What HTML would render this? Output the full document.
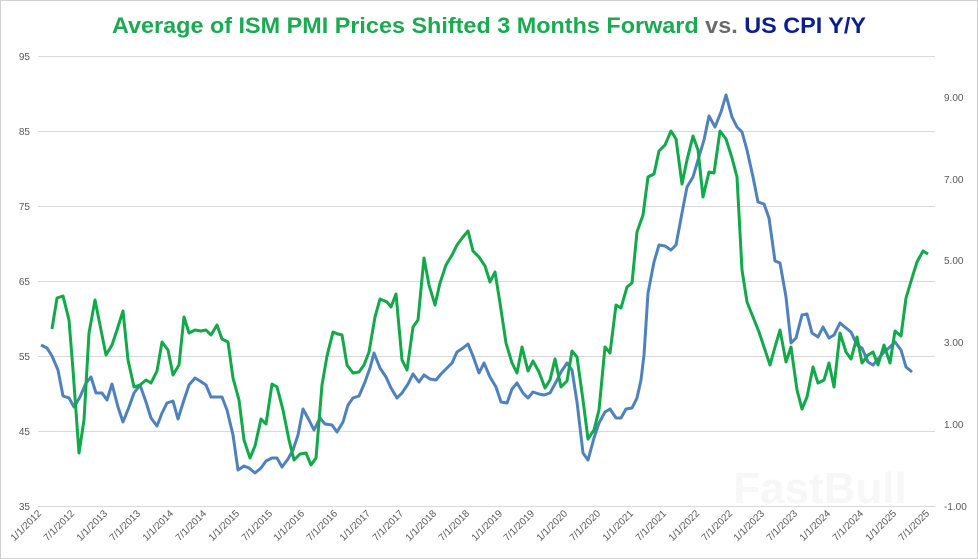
<!DOCTYPE html>
<html><head><meta charset="utf-8"><style>
html,body{margin:0;padding:0;background:#fff;}
svg{display:block;font-family:"Liberation Sans",sans-serif;}
</style></head><body>
<svg width="978" height="559" viewBox="0 0 978 559" xmlns="http://www.w3.org/2000/svg">
<rect x="0.5" y="0.5" width="977" height="558" fill="#fff" stroke="#d0d0d0"/>
<text x="489" y="33" text-anchor="middle" font-size="22" font-weight="bold" textLength="754" lengthAdjust="spacingAndGlyphs"><tspan fill="#1aaa4f">Average of ISM PMI Prices Shifted 3 Months Forward</tspan><tspan fill="#6b6b6b"> vs. </tspan><tspan fill="#0a1f8f">US CPI Y/Y</tspan></text>
<g stroke="#d9d9d9" stroke-width="1">
<line x1="38" x2="935" y1="56.5" y2="56.5"/><line x1="38" x2="935" y1="131.5" y2="131.5"/><line x1="38" x2="935" y1="206.5" y2="206.5"/><line x1="38" x2="935" y1="281.5" y2="281.5"/><line x1="38" x2="935" y1="356.5" y2="356.5"/><line x1="38" x2="935" y1="431.5" y2="431.5"/><line x1="38" x2="935" y1="506.5" y2="506.5"/>
</g>
<g font-size="10" fill="#595959" text-anchor="end">
<text x="30" y="60">95</text><text x="30" y="135">85</text><text x="30" y="210">75</text><text x="30" y="285">65</text><text x="30" y="360">55</text><text x="30" y="435">45</text><text x="30" y="510">35</text>
</g>
<g font-size="10" fill="#595959" text-anchor="start">
<text x="944" y="101">9.00</text><text x="944" y="183">7.00</text><text x="944" y="264">5.00</text><text x="944" y="346">3.00</text><text x="944" y="428">1.00</text><text x="944" y="510">-1.00</text>
</g>
<text x="820" y="503" text-anchor="middle" font-size="44" font-weight="bold" fill="#f7f7f7">FastBull</text>
<g font-size="10" fill="#595959" text-anchor="end">
<text transform="translate(42,514) rotate(-45)">1/1/2012</text>
<text transform="translate(75,514) rotate(-45)">7/1/2012</text>
<text transform="translate(108,514) rotate(-45)">1/1/2013</text>
<text transform="translate(141,514) rotate(-45)">7/1/2013</text>
<text transform="translate(174,514) rotate(-45)">1/1/2014</text>
<text transform="translate(207,514) rotate(-45)">7/1/2014</text>
<text transform="translate(240,514) rotate(-45)">1/1/2015</text>
<text transform="translate(273,514) rotate(-45)">7/1/2015</text>
<text transform="translate(305,514) rotate(-45)">1/1/2016</text>
<text transform="translate(338,514) rotate(-45)">7/1/2016</text>
<text transform="translate(371,514) rotate(-45)">1/1/2017</text>
<text transform="translate(404,514) rotate(-45)">7/1/2017</text>
<text transform="translate(437,514) rotate(-45)">1/1/2018</text>
<text transform="translate(470,514) rotate(-45)">7/1/2018</text>
<text transform="translate(503,514) rotate(-45)">1/1/2019</text>
<text transform="translate(535,514) rotate(-45)">7/1/2019</text>
<text transform="translate(568,514) rotate(-45)">1/1/2020</text>
<text transform="translate(601,514) rotate(-45)">7/1/2020</text>
<text transform="translate(634,514) rotate(-45)">1/1/2021</text>
<text transform="translate(667,514) rotate(-45)">7/1/2021</text>
<text transform="translate(700,514) rotate(-45)">1/1/2022</text>
<text transform="translate(733,514) rotate(-45)">7/1/2022</text>
<text transform="translate(765,514) rotate(-45)">1/1/2023</text>
<text transform="translate(798,514) rotate(-45)">7/1/2023</text>
<text transform="translate(831,514) rotate(-45)">1/1/2024</text>
<text transform="translate(864,514) rotate(-45)">7/1/2024</text>
<text transform="translate(897,514) rotate(-45)">1/1/2025</text>
<text transform="translate(930,514) rotate(-45)">7/1/2025</text>
</g>
<polyline fill="none" stroke="#4f81bd" stroke-width="3" stroke-linejoin="round" points="41,345 47,348 52,356 58,370 63,396 69,398 74,407 80,397 86,383 91,377 96,393 102,393 107,400 112,384 118,407 123,422 129,407 134,393 140,385 146,402 151,418 157,426 162,413 167,403 173,401 178,419 183,403 189,385 195,378 200,381 206,385 211,397 217,397 222,397 227,410 233,435 238,470 244,466 249,468 255,473 261,468 266,461 272,458 277,458 282,467 288,459 293,450 298,435 303,409 309,420 314,430 320,418 325,424 332,425 337,432 343,422 348,405 353,398 359,396 365,382 370,368 374,353 380,368 386,377 391,388 397,398 402,393 408,384 413,374 419,382 424,375 430,379 436,380 441,374 446,369 452,363 457,352 463,348 468,344 473,356 479,373 484,363 490,377 496,387 501,402 507,403 512,389 517,383 523,393 528,398 533,392 539,394 544,395 550,393 556,382 561,372 567,363 572,370 577,402 583,453 588,460 594,438 599,423 605,412 610,409 616,418 621,418 626,409 632,408 637,398 641,380 644,355 648,293 654,262 659,245 665,246 671,250 676,245 682,213 687,187 693,177 698,160 704,140 709,116 715,127 721,112 726,95 732,117 737,127 742,132 747,150 753,177 758,202 764,204 769,218 775,261 780,263 786,297 791,343 796,338 802,315 807,314 812,333 818,337 823,327 829,338 834,335 840,323 846,328 851,332 857,345 862,348 868,362 873,365 879,358 884,352 890,347 895,342 901,350 906,367 912,372"/>
<polyline fill="none" stroke="#12a94a" stroke-width="3" stroke-linejoin="round" points="52,329 57,298 63,296 69,320 73,370 79,453 84,420 89,333 95,300 101,330 106,355 112,345 117,330 123,311 128,360 134,387 140,385 146,380 151,383 157,371 162,342 168,350 173,375 179,365 184,317 189,333 195,330 201,331 206,330 211,335 217,325 222,339 228,342 233,378 239,400 244,440 250,458 255,446 261,419 266,424 272,384 277,387 283,410 289,440 294,460 300,454 306,453 311,465 316,458 322,385 327,356 333,332 338,334 342,335 347,365 353,373 359,372 364,365 369,352 375,317 380,299 387,302 391,307 396,294 402,360 407,370 413,327 418,320 424,258 429,285 435,305 440,283 446,265 452,255 457,245 463,237 468,231 473,251 479,257 485,266 490,282 495,272 500,303 506,343 512,363 517,373 522,347 528,371 533,361 539,372 545,388 550,380 555,359 561,387 567,381 572,351 577,357 583,400 588,439 594,430 599,410 605,347 610,353 616,305 621,308 627,287 632,283 637,232 643,215 648,177 654,174 659,151 665,145 671,131 676,139 682,184 687,160 693,136 698,150 703,197 709,172 714,173 720,131 726,139 732,158 737,177 742,270 747,302 753,317 759,332 764,347 770,365 775,347 780,330 786,362 791,347 797,390 802,409 807,397 813,367 818,383 824,380 829,363 834,387 840,333 846,352 851,359 857,337 862,363 868,355 873,352 878,365 884,345 890,363 895,331 901,336 906,298 912,278 917,262 923,251 928,254"/>
</svg>
</body></html>
